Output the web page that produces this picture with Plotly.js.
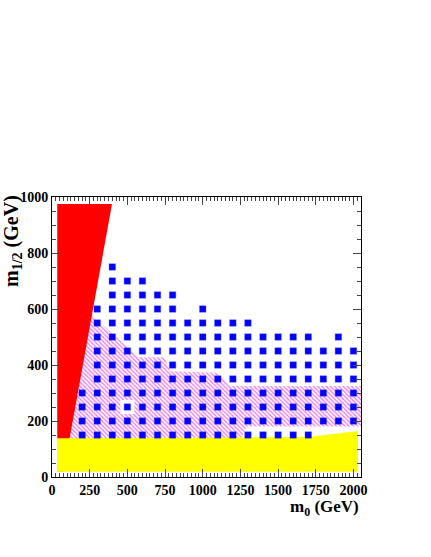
<!DOCTYPE html>
<html>
<head>
<meta charset="utf-8">
<script src="https://cdn.plot.ly/plotly-3.0.1.min.js"></script>
<style>html,body{margin:0;padding:0;background:#fff;}#chart{width:431px;height:557px;}</style>
</head>
<body>
<div id="chart"></div>
<script>
// ---- data (m0, m1/2 in GeV) ----
// signal grid points: m0 values present for each m1/2 row
const gridRows = [750, 700, 650, 600, 550, 500, 450, 400, 350, 300, 250, 200, 150];
const row750 = [400];
const row700 = [400, 500, 600];
const row650 = [400, 500, 600, 700, 800];
const row600 = [300, 400, 500, 600, 700, 800, 1000];
const row550 = [300, 400, 500, 600, 700, 800, 900, 1000, 1100, 1200, 1300];
const row500 = [300, 400, 500, 600, 700, 800, 900, 1000, 1100, 1200, 1300, 1400, 1500, 1600, 1700, 1900];
const row450 = [300, 400, 500, 600, 700, 800, 900, 1000, 1100, 1200, 1300, 1400, 1500, 1600, 1700, 1800, 1900, 2000];
const row400 = [300, 400, 500, 600, 700, 800, 900, 1000, 1100, 1200, 1300, 1400, 1500, 1600, 1700, 1800, 1900, 2000];
const row350 = [300, 400, 500, 600, 700, 800, 900, 1000, 1100, 1200, 1300, 1400, 1500, 1600, 1700, 1800, 1900, 2000];
const row300 = [200, 300, 400, 500, 600, 700, 800, 900, 1000, 1100, 1200, 1300, 1400, 1500, 1600, 1700, 1800, 1900, 2000];
const row250 = [200, 300, 400, 500, 600, 700, 800, 900, 1000, 1100, 1200, 1300, 1400, 1500, 1600, 1700, 1800, 1900, 2000];
const row200 = [200, 300, 400, 500, 600, 700, 800, 900, 1000, 1100, 1200, 1300, 1400, 1500, 1600, 1700, 1800, 1900, 2000];
const row150 = [200, 300, 400, 500, 600, 700, 800, 900, 1000, 1100, 1200, 1300, 1400, 1500, 1600, 1700];
const rowValues = [row750, row700, row650, row600, row550, row500, row450, row400, row350, row300, row250, row200, row150];

// point with a cleared (white) background
const clearedM0 = [500];
const clearedM12 = [250];

// excluded region (hatched)
const hatchM0  = [110, 255, 276, 575, 745, 785, 1100, 1190, 2050, 2050, 1290, 1250, 110];
const hatchM12 = [130, 584, 572, 428, 428, 378, 372, 325, 325, 180, 180, 130, 130];

// theoretically forbidden region (red)
const redM0  = [35, 35, 398, 77];
const redM12 = [20, 975, 975, 20];

// LEP region (yellow)
const yellowM0  = [33, 33, 1700, 2030, 2030];
const yellowM12 = [19, 138, 143, 164, 19];

// axis ticks
const xTicks = [0, 250, 500, 750, 1000, 1250, 1500, 1750, 2000];
const yTicks = [0, 200, 400, 600, 800, 1000];

// ---- build ----
const gx = [], gy = [];
gridRows.forEach((m12, i) => rowValues[i].forEach(m0 => { gx.push(m0); gy.push(m12); }));

const tickFont = {family: 'Liberation Serif, Times New Roman, serif', size: 14, color: '#000', weight: 'bold'};
const titleFont = {family: 'Liberation Serif, Times New Roman, serif', size: 17, color: '#000', weight: 'bold'};
const yTitleFont = {family: 'Liberation Serif, Times New Roman, serif', size: 20, color: '#000', weight: 'bold'};

const traces = [
  {x: hatchM0, y: hatchM12, type: 'scatter', mode: 'lines', fill: 'toself',
   fillcolor: 'rgba(255,255,255,0)', line: {width: 0, color: 'rgba(0,0,0,0)'},
   fillpattern: {shape: '\\', fgcolor: '#f070f0', bgcolor: 'rgba(255,255,255,0)', size: 3, solidity: 0.4},
   hoverinfo: 'skip', showlegend: false},
  {x: redM0, y: redM12, type: 'scatter', mode: 'lines', fill: 'toself',
   fillcolor: '#ff0000', line: {width: 0, color: '#ff0000'}, hoverinfo: 'skip', showlegend: false},
  {x: yellowM0, y: yellowM12, type: 'scatter', mode: 'lines', fill: 'toself',
   fillcolor: '#ffff00', line: {width: 0, color: '#ffff00'}, hoverinfo: 'skip', showlegend: false},
  {x: clearedM0, y: clearedM12, type: 'scatter', mode: 'markers',
   marker: {symbol: 'square', size: 14, color: '#ffffff', line: {width: 0}}, showlegend: false},
  {x: gx, y: gy, type: 'scatter', mode: 'markers',
   marker: {symbol: 'square', size: 6.5, color: '#0000ff', line: {width: 0.6, color: 'rgba(80,80,255,0.6)'}}, showlegend: false}
];

const axisCommon = {
  showgrid: false, zeroline: false, showline: true, linecolor: '#000', linewidth: 1,
  mirror: 'allticks', ticks: 'inside', ticklen: 8, tickwidth: 1, tickcolor: '#444',
  tickfont: tickFont, fixedrange: true, ticklabelstandoff: 0
};

const layout = {
  width: 431, height: 557,
  margin: {l: 52, r: 70, t: 197, b: 80},
  paper_bgcolor: '#fff', plot_bgcolor: '#fff',
  showlegend: false,
  xaxis: Object.assign({}, axisCommon, {
    range: [0, 2050], tickmode: 'array', tickvals: xTicks, ticktext: xTicks.map(String),
    minor: {dtick: 25, tick0: 0, ticklen: 4, tickcolor: '#444', ticks: 'inside'}
  }),
  yaxis: Object.assign({}, axisCommon, {
    range: [0, 1000], tickmode: 'array', tickvals: yTicks, ticktext: yTicks.map(String),
    minor: {dtick: 50, tick0: 0, ticklen: 4, tickcolor: '#444', ticks: 'inside'}
  }),
  annotations: [
    {text: 'm<sub>0</sub> (GeV)', xref: 'paper', yref: 'paper', x: 1.0, y: -0.112,
     xanchor: 'right', yanchor: 'middle', showarrow: false, font: titleFont},
    {text: 'm<sub>1/2</sub> (GeV)', xref: 'paper', yref: 'paper', x: -0.128, y: 1.016,
     xanchor: 'center', yanchor: 'top', textangle: -90, showarrow: false, font: yTitleFont}
  ]
};

Plotly.newPlot('chart', traces, layout, {staticPlot: true, displayModeBar: false});
</script>
</body>
</html>
